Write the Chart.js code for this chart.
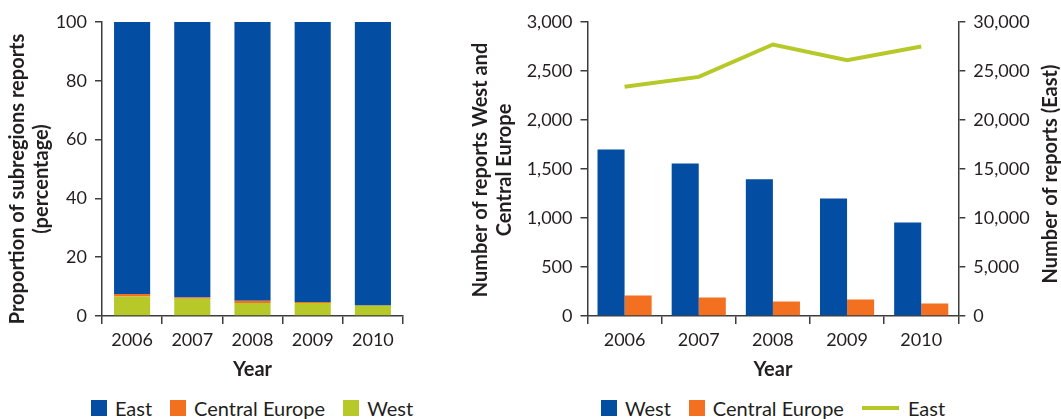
<!DOCTYPE html>
<html>
<head>
<meta charset="utf-8">
<script src="https://cdn.jsdelivr.net/npm/chart.js@4/dist/chart.umd.min.js"></script>
<style>
  body { margin: 0; background: #fff; width: 1061px; height: 419px; position: relative; overflow: hidden; font-family: Lato, sans-serif; color: #231f20; }
  canvas { position: absolute; top: 0; }
  #leftChart { left: 0; }
  #rightChart { left: 455px; }
  .legend { position: absolute; top: 398px; height: 20px; width: 500px; display: flex; justify-content: center; align-items: center; font-size: 20px; }
  .legend .item { display: flex; align-items: center; margin: 0 9px; }
  .legend .box { width: 16px; height: 16px; margin-right: 8px; }
  .legend .line { width: 37px; height: 4px; margin-right: 9px; }
</style>
</head>
<body>
<canvas id="leftChart" width="440" height="390"></canvas>
<canvas id="rightChart" width="606" height="390"></canvas>

<div class="legend" style="left:2px">
  <span class="item"><span class="box" style="background:#034ea2"></span>East</span>
  <span class="item"><span class="box" style="background:#f37021"></span>Central Europe</span>
  <span class="item"><span class="box" style="background:#b7c829"></span>West</span>
</div>
<div class="legend" style="left:523px">
  <span class="item"><span class="box" style="background:#034ea2"></span>West</span>
  <span class="item"><span class="box" style="background:#f37021"></span>Central Europe</span>
  <span class="item"><span class="line" style="background:#b7c829"></span>East</span>
</div>

<script>
// ===== データ =====
const years = ["2006", "2007", "2008", "2009", "2010"];

// 左：割合 (%)
const shareWest = [6.6, 5.9, 4.4, 4.4, 3.5];
const shareCentral = [0.9, 0.4, 0.8, 0.4, 0.1];
const shareEast = [92.5, 93.7, 94.8, 95.2, 96.4];

// 右：件数
const reportsWest = [1700, 1555, 1395, 1200, 955];
const reportsCentral = [210, 188, 148, 168, 128];
const reportsEast = [23400, 24400, 27700, 26100, 27500];

const BLUE = "#034ea2";
const ORANGE = "#f37021";
const GREEN = "#b7c829";
const TEXT = "#231f20";
const AXIS = "#3c3c3c";

const tickFont = { family: "Lato", size: 18 };
const titleFont = { family: "Lato", size: 20, weight: "bold", lineHeight: 1.2 };

// 共通のx軸
function xAxis() {
  return {
    offset: true,
    grid: { offset: true, drawOnChartArea: false, drawTicks: true, tickLength: 8, tickColor: AXIS, lineWidth: 1.5 },
    border: { display: true, color: AXIS, width: 1.5 },
    ticks: { color: TEXT, font: tickFont, padding: 5 },
    title: { display: true, text: "Year", color: TEXT, font: titleFont, padding: { bottom: 8 } },
    afterFit: s => { s.height = 74; }
  };
}

function yGrid() {
  return { drawOnChartArea: false, drawTicks: true, tickLength: 7, tickColor: AXIS, lineWidth: 1.5 };
}

// 縦書きタイトル（下から上へ）
function sideTitle(id, lines, xs, cy) {
  return {
    id,
    afterDraw(chart) {
      const ctx = chart.ctx;
      ctx.save();
      ctx.font = "bold 20px Lato";
      ctx.fillStyle = TEXT;
      ctx.textAlign = "center";
      ctx.textBaseline = "middle";
      lines.forEach((t, i) => {
        ctx.save();
        ctx.translate(xs[i], cy);
        ctx.rotate(-Math.PI / 2);
        ctx.fillText(t, 0, 0);
        ctx.restore();
      });
      ctx.restore();
    }
  };
}

Chart.defaults.animation = false;

// ===== 左グラフ（積み上げ） =====
new Chart(document.getElementById("leftChart"), {
  type: "bar",
  data: {
    labels: years,
    datasets: [
      { label: "West", data: shareWest, backgroundColor: GREEN },
      { label: "Central Europe", data: shareCentral, backgroundColor: ORANGE },
      { label: "East", data: shareEast, backgroundColor: BLUE }
    ]
  },
  options: {
    responsive: false,
    devicePixelRatio: 1,
    layout: { padding: { top: 22, right: 37, left: 0, bottom: 0 } },
    datasets: { bar: { categoryPercentage: 1, barPercentage: 0.6 } },
    plugins: { legend: { display: false }, tooltip: { enabled: false } },
    scales: {
      x: Object.assign(xAxis(), { stacked: true }),
      y: {
        stacked: true,
        min: 0, max: 100,
        ticks: { stepSize: 20, color: TEXT, font: tickFont, padding: 8 },
        grid: yGrid(),
        border: { display: true, color: AXIS, width: 1.5 },
        afterFit: s => { s.width = 102; }
      }
    }
  },
  plugins: [sideTitle("leftTitle", ["Proportion of subregions reports", "(percentage)"], [18, 42], 179)]
});

// ===== 右グラフ（棒＋折れ線） =====
new Chart(document.getElementById("rightChart"), {
  type: "bar",
  data: {
    labels: years,
    datasets: [
      { label: "West", data: reportsWest, backgroundColor: BLUE, yAxisID: "y", order: 2 },
      { label: "Central Europe", data: reportsCentral, backgroundColor: ORANGE, yAxisID: "y", order: 2 },
      { type: "line", label: "East", data: reportsEast, borderColor: GREEN, borderWidth: 4, pointRadius: 0, tension: 0, fill: false, yAxisID: "y1", order: 1 }
    ]
  },
  options: {
    responsive: false,
    devicePixelRatio: 1,
    layout: { padding: { top: 22, right: 0, left: 0, bottom: 0 } },
    datasets: { bar: { categoryPercentage: 0.73, barPercentage: 1 } },
    plugins: { legend: { display: false }, tooltip: { enabled: false } },
    scales: {
      x: xAxis(),
      y: {
        position: "left",
        min: 0, max: 3000,
        ticks: { stepSize: 500, color: TEXT, font: tickFont, padding: 8 },
        grid: yGrid(),
        border: { display: true, color: AXIS, width: 1.5 },
        afterFit: s => { s.width = 132.5; }
      },
      y1: {
        position: "right",
        min: 0, max: 30000,
        ticks: { stepSize: 5000, color: TEXT, font: tickFont, padding: 8 },
        grid: yGrid(),
        border: { display: true, color: AXIS, width: 1.5 },
        afterFit: s => { s.width = 102.7; }
      }
    }
  },
  plugins: [
    sideTitle("rightLeftTitle", ["Number of reports West and", "Central Europe"], [26, 50], 170),
    sideTitle("rightRightTitle", ["Number of reports (East)"], [596], 174)
  ]
});
</script>
</body>
</html>
